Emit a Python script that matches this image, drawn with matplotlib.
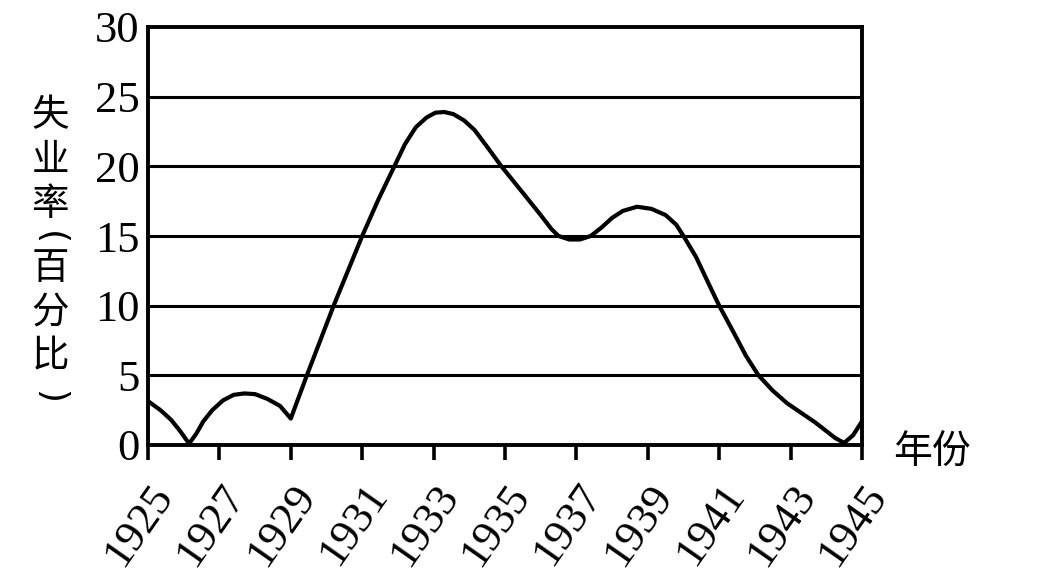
import numpy as np
import matplotlib
matplotlib.use('Agg')
import matplotlib.pyplot as plt

# values
years = [1925.0, 1925.35, 1925.65, 1925.9, 1926.15, 1926.35, 1926.55, 1926.8, 1927.1,
         1927.4, 1927.7, 1928.0, 1928.35, 1928.7, 1929.0,
         1929.45, 1930.2, 1931.0, 1931.45, 1931.9, 1932.2, 1932.5, 1932.8, 1933.05,
         1933.3, 1933.55, 1933.85, 1934.15, 1934.5, 1934.9, 1935.5, 1936.0, 1936.3,
         1936.5, 1936.8, 1937.1, 1937.4, 1937.7, 1938.0, 1938.3, 1938.7, 1939.1,
         1939.5, 1939.8, 1940.0, 1940.35, 1940.7, 1941.0, 1941.4, 1941.75, 1942.1,
         1942.5, 1942.9, 1943.3, 1943.7, 1944.0, 1944.25, 1944.5, 1944.75, 1945.0]
rate = [3.15, 2.5, 1.8, 1.0, 0.1, 0.8, 1.7, 2.5, 3.2,
        3.6, 3.7, 3.65, 3.3, 2.8, 1.9,
        5.0, 10.0, 15.0, 17.6, 20.0, 21.6, 22.8, 23.5, 23.85,
        23.9, 23.75, 23.3, 22.6, 21.4, 20.0, 18.1, 16.5, 15.5,
        15.0, 14.75, 14.75, 15.0, 15.6, 16.3, 16.8, 17.1, 16.95,
        16.5, 15.8, 15.0, 13.5, 11.6, 10.0, 8.1, 6.4, 5.0,
        3.9, 3.0, 2.3, 1.6, 1.0, 0.5, 0.15, 0.7, 1.7]

xticks = list(range(1925, 1946, 2))
yticks = [0, 5, 10, 15, 20, 25, 30]
ylabel_chars = ['失', '业', '率', '(', '百', '分', '比', ')']
xlabel = '年份'

W, H = 1052, 576
fig = plt.figure(figsize=(W / 100, H / 100), dpi=100)
ax = fig.add_axes([148 / W, (H - 445) / H, 714 / W, 418 / H])

ax.plot(years, rate, color='black', linewidth=3.0, solid_capstyle='round',
        solid_joinstyle='round', zorder=3)

for y in yticks[1:-1]:
    ax.axhline(y, color='black', linewidth=2.2, zorder=2)

ax.set_xlim(1925, 1945)
ax.set_ylim(0, 30)
for s in ax.spines.values():
    s.set_linewidth(2.8)

serif = 'Liberation Serif'
ax.set_yticks(yticks)
ax.set_yticklabels([str(v) for v in yticks], fontfamily=serif, fontsize=32)
ax.tick_params(axis='y', length=0, pad=6)

ax.set_xticks(xticks)
ax.set_xticklabels([str(v) for v in xticks], fontfamily=serif, fontsize=32,
                   rotation=55, ha='right', va='top', rotation_mode='anchor')
ax.tick_params(axis='x', length=11, width=2.6, direction='out', pad=12)

cjk = ['Noto Sans CJK SC', 'DejaVu Sans']
ys = [116, 161, 204, 238, 268, 312, 357, 397]
for ch, yp in zip(ylabel_chars, ys):
    if ch in '()':
        # vertical-style brackets: plain parens turned a quarter clockwise
        fig.text(50 / W, 1 - yp / H, ch, family='DejaVu Sans', fontsize=26,
                 ha='center', va='center', rotation=-90, rotation_mode='anchor')
    else:
        fig.text(50 / W, 1 - yp / H, ch, family=cjk, fontsize=27,
                 ha='center', va='center')

fig.text(932 / W, 1 - 452 / H, xlabel, family=cjk, fontsize=28,
         ha='center', va='center')

fig.savefig('out.png', dpi=100)
